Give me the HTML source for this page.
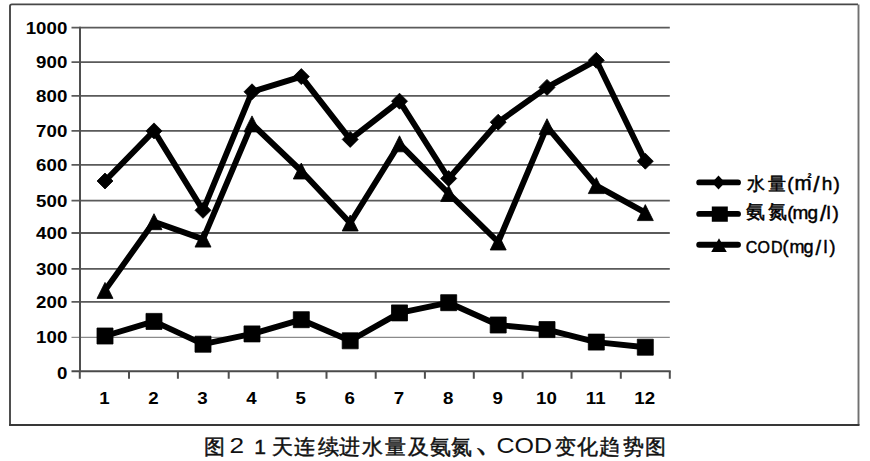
<!DOCTYPE html><html><head><meta charset="utf-8"><style>html,body{margin:0;padding:0;background:#fff;width:870px;height:461px;overflow:hidden}svg{display:block}text{font-family:"Liberation Sans",sans-serif}</style></head><body>
<svg width="870" height="461" viewBox="0 0 870 461">
<path d="M10 424.9V6.3Q10 4.4 11.9 4.4H858" fill="none" stroke="#474747" stroke-width="1.9"/>
<path d="M858.5 4.4V424.9" fill="none" stroke="#707070" stroke-width="1.9"/>
<path d="M9.05 425.1H859.5" fill="none" stroke="#383838" stroke-width="2"/>
<path d="M71.5 301.9H669.8 M71.5 268.9H669.8 M71.5 233.0H669.8 M71.5 200.6H669.8 M71.5 164.9H669.8 M71.5 130.9H669.8 M71.5 95.9H669.8 M71.5 62.1H669.8 M71.5 27.6H669.8" stroke="#5a5a5a" stroke-width="1.8" fill="none"/>
<path d="M71.5 337.4H669.8" stroke="#8a8a8a" stroke-width="1.3" fill="none"/>
<path d="M71.5 371.2H670.6999999999999" stroke="#4a4a4a" stroke-width="2" fill="none"/>
<path d="M80.0 26.7V372.1 M79.8 371.2V378.7 M129.0 371.2V378.7 M177.9 371.2V378.7 M228.7 371.2V378.7 M277.6 371.2V378.7 M326.5 371.2V378.7 M375.7 371.2V378.7 M424.9 371.2V378.7 M473.8 371.2V378.7 M522.6 371.2V378.7 M571.5 371.2V378.7 M620.8 371.2V378.7 M669.8 371.2V378.7" stroke="#4f4f4f" stroke-width="2" fill="none"/>
<text transform="translate(67.3 378.6) scale(1.1 1)" text-anchor="end" font-weight="bold" font-size="17">0</text>
<text transform="translate(67.3 343.1) scale(1.1 1)" text-anchor="end" font-weight="bold" font-size="17">100</text>
<text transform="translate(67.3 308.1) scale(1.1 1)" text-anchor="end" font-weight="bold" font-size="17">200</text>
<text transform="translate(67.3 275.1) scale(1.1 1)" text-anchor="end" font-weight="bold" font-size="17">300</text>
<text transform="translate(67.3 239.2) scale(1.1 1)" text-anchor="end" font-weight="bold" font-size="17">400</text>
<text transform="translate(67.3 206.8) scale(1.1 1)" text-anchor="end" font-weight="bold" font-size="17">500</text>
<text transform="translate(67.3 171.1) scale(1.1 1)" text-anchor="end" font-weight="bold" font-size="17">600</text>
<text transform="translate(67.3 137.1) scale(1.1 1)" text-anchor="end" font-weight="bold" font-size="17">700</text>
<text transform="translate(67.3 102.1) scale(1.1 1)" text-anchor="end" font-weight="bold" font-size="17">800</text>
<text transform="translate(67.3 68.3) scale(1.1 1)" text-anchor="end" font-weight="bold" font-size="17">900</text>
<text transform="translate(67.3 33.8) scale(1.1 1)" text-anchor="end" font-weight="bold" font-size="17">1000</text>
<text transform="translate(104.4 403.6) scale(1.1 1)" text-anchor="middle" font-weight="bold" font-size="17">1</text>
<text transform="translate(153.4 403.6) scale(1.1 1)" text-anchor="middle" font-weight="bold" font-size="17">2</text>
<text transform="translate(202.4 403.6) scale(1.1 1)" text-anchor="middle" font-weight="bold" font-size="17">3</text>
<text transform="translate(251.4 403.6) scale(1.1 1)" text-anchor="middle" font-weight="bold" font-size="17">4</text>
<text transform="translate(300.7 403.6) scale(1.1 1)" text-anchor="middle" font-weight="bold" font-size="17">5</text>
<text transform="translate(349.6 403.6) scale(1.1 1)" text-anchor="middle" font-weight="bold" font-size="17">6</text>
<text transform="translate(398.9 403.6) scale(1.1 1)" text-anchor="middle" font-weight="bold" font-size="17">7</text>
<text transform="translate(448.1 403.6) scale(1.1 1)" text-anchor="middle" font-weight="bold" font-size="17">8</text>
<text transform="translate(497.6 403.6) scale(1.1 1)" text-anchor="middle" font-weight="bold" font-size="17">9</text>
<text transform="translate(546.4 403.6) scale(1.1 1)" text-anchor="middle" font-weight="bold" font-size="17">10</text>
<text transform="translate(595.7 403.6) scale(1.1 1)" text-anchor="middle" font-weight="bold" font-size="17">11</text>
<text transform="translate(644.7 403.6) scale(1.1 1)" text-anchor="middle" font-weight="bold" font-size="17">12</text>
<polyline points="105.0,181.0 154.0,130.9 203.0,210.3 252.0,91.8 301.3,76.6 350.2,139.4 399.5,101.2 448.7,178.5 498.2,122.2 547.0,87.4 596.3,60.3 645.3,161.2" fill="none" stroke="#000" stroke-width="5.9" stroke-linejoin="round" stroke-linecap="round"/>
<polyline points="105.0,336.0 154.0,321.4 203.0,344.2 252.0,333.9 301.3,319.7 350.2,340.8 399.5,312.9 448.7,302.7 498.2,325.0 547.0,329.6 596.3,342.1 645.3,347.2" fill="none" stroke="#000" stroke-width="5.9" stroke-linejoin="round" stroke-linecap="round"/>
<polyline points="105.0,290.4 154.0,221.7 203.0,239.1 252.0,123.9 301.3,171.0 350.2,223.0 399.5,143.8 448.7,193.5 498.2,242.0 547.0,126.7 596.3,185.6 645.3,212.6" fill="none" stroke="#000" stroke-width="5.9" stroke-linejoin="round" stroke-linecap="round"/>
<path d="M105.0 173.0L113.0 181.0L105.0 189.0L97.0 181.0Z M154.0 122.9L162.0 130.9L154.0 138.9L146.0 130.9Z M203.0 202.3L211.0 210.3L203.0 218.3L195.0 210.3Z M252.0 83.8L260.0 91.8L252.0 99.8L244.0 91.8Z M301.3 68.6L309.3 76.6L301.3 84.6L293.3 76.6Z M350.2 131.4L358.2 139.4L350.2 147.4L342.2 139.4Z M399.5 93.2L407.5 101.2L399.5 109.2L391.5 101.2Z M448.7 170.5L456.7 178.5L448.7 186.5L440.7 178.5Z M498.2 114.2L506.2 122.2L498.2 130.2L490.2 122.2Z M547.0 79.4L555.0 87.4L547.0 95.4L539.0 87.4Z M596.3 52.3L604.3 60.3L596.3 68.3L588.3 60.3Z M645.3 153.2L653.3 161.2L645.3 169.2L637.3 161.2Z M97.0 328.0h16v16h-16Z M146.0 313.4h16v16h-16Z M195.0 336.2h16v16h-16Z M244.0 325.9h16v16h-16Z M293.3 311.7h16v16h-16Z M342.2 332.8h16v16h-16Z M391.5 304.9h16v16h-16Z M440.7 294.7h16v16h-16Z M490.2 317.0h16v16h-16Z M539.0 321.6h16v16h-16Z M588.3 334.1h16v16h-16Z M637.3 339.2h16v16h-16Z M105.0 282.4L113.0 298.4L97.0 298.4Z M154.0 213.7L162.0 229.7L146.0 229.7Z M203.0 231.1L211.0 247.1L195.0 247.1Z M252.0 115.9L260.0 131.9L244.0 131.9Z M301.3 163.0L309.3 179.0L293.3 179.0Z M350.2 215.0L358.2 231.0L342.2 231.0Z M399.5 135.8L407.5 151.8L391.5 151.8Z M448.7 185.5L456.7 201.5L440.7 201.5Z M498.2 234.0L506.2 250.0L490.2 250.0Z M547.0 118.7L555.0 134.7L539.0 134.7Z M596.3 177.6L604.3 193.6L588.3 193.6Z M645.3 204.6L653.3 220.6L637.3 220.6Z" fill="#000" stroke="#000" stroke-width="0.8" stroke-linejoin="round"/>
<path d="M699.2 182.4H738 M699.2 213.9H738 M699.2 244.7H738" stroke="#000" stroke-width="5.9" stroke-linecap="round" fill="none"/>
<path d="M718.5 175.4L725.0 182.4L718.5 189.4L712.0 182.4Z M711.8 206.5h16v15.2h-16Z M719.0 238.3L726.8 252.1L711.2 252.1Z" fill="#000"/>
<text y="190" font-size="18" stroke="#000" stroke-width="0.5"><tspan x="746.8 768.3">水量</tspan><tspan x="787.2" font-size="19" stroke-width="0.45">(</tspan><tspan x="794.6" font-size="20.5" stroke-width="0.55">m</tspan><tspan x="807.6" dy="-8.2" font-size="12" font-weight="bold" stroke-width="0.2">²</tspan><tspan x="813.3" dy="10.2" font-size="22.5" stroke-width="0.5">/</tspan><tspan x="821.8 833.6" dy="-2" font-size="19" stroke-width="0.45">h)</tspan></text>
<text y="218.3" font-size="19" stroke="#000" stroke-width="0.5"><tspan x="745.6 767.6">氨氮</tspan><tspan x="787.2 792.4 807.6" dy="0.7" font-size="19" stroke-width="0.45">(mg</tspan><tspan x="820" dy="2" font-size="22.5" stroke-width="0.5">/</tspan><tspan x="826.6 832.4" dy="-2" font-size="19" stroke-width="0.45">l)</tspan></text>
<text y="252.5" font-size="16.5" stroke="#000" stroke-width="0.45"><tspan x="745.8 757.4 771.0" font-size="16">COD</tspan><tspan x="782.6 789.6 803.4" font-size="18">(mg</tspan><tspan x="815.5" dy="2" font-size="20" stroke-width="0.5">/</tspan><tspan x="823.5 829.6" dy="-2" font-size="18">l)</tspan></text>
<text y="454" font-size="21" fill="#111"><tspan x="204.3" stroke="#111" stroke-width="0.45">图</tspan><tspan x="229.6" y="453" font-size="22.5" textLength="14.6" lengthAdjust="spacingAndGlyphs">2</tspan> <tspan x="254.3" y="454" stroke="#111" stroke-width="0.45">1</tspan><tspan x="272.1 294 317.6 339.4 362 384.9 407.7 430.4 451.2" stroke="#111" stroke-width="0.45">天连续进水量及氨氮</tspan><tspan x="473.5" y="451" font-size="34" stroke="#111" stroke-width="0.5">、</tspan><tspan x="496.4" y="453" font-size="22.5" textLength="55.6" lengthAdjust="spacingAndGlyphs">COD</tspan> <tspan x="555.2 577.3 599.3 622.8 644.6" y="454" stroke="#111" stroke-width="0.45">变化趋势图</tspan></text>
</svg></body></html>
